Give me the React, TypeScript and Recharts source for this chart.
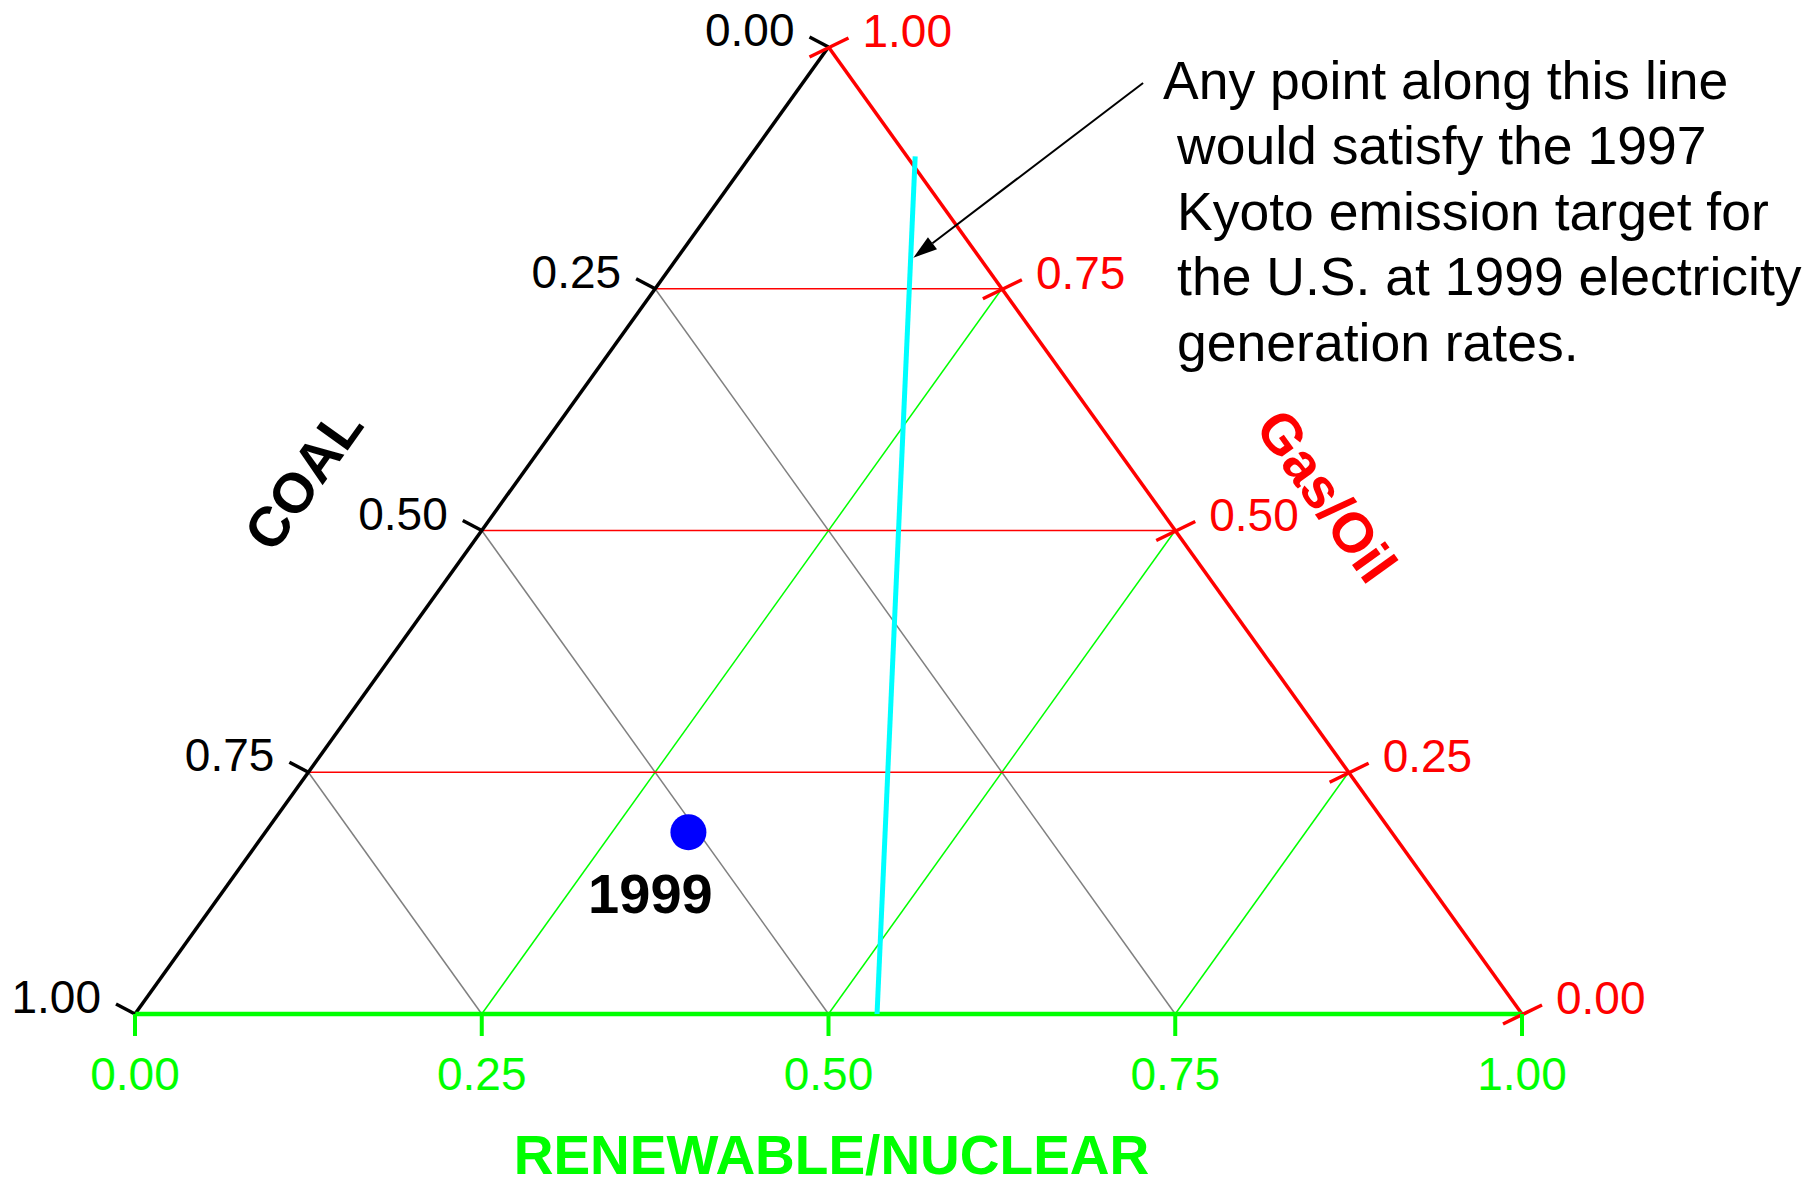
import React from 'react';
import { ComposedChart, XAxis, YAxis, Scatter, ReferenceLine } from 'recharts';

const FONT = '"Liberation Sans", Arial, Helvetica, sans-serif';

// ---- data ----
const tickValues = [0, 0.25, 0.5, 0.75, 1];
const tickLabels = ['0.00', '0.25', '0.50', '0.75', '1.00'];
const gridValues = [0.25, 0.5, 0.75];
const axisTitles = { coal: 'COAL', gas: 'Gas/Oil', renewable: 'RENEWABLE/NUCLEAR' };
const point1999 = { label: '1999', coal: 0.507, renewable: 0.305, gas: 0.188 };
const kyotoRenewable = [0.119, 0.535];
const kyotoGas = [0.887, 0];
const annotationLines = [
  'Any point along this line',
  'would satisfy the 1997',
  'Kyoto emission target for',
  'the U.S. at 1999 electricity',
  'generation rates.',
];
// arrow (annotation) start / tip, in the chart's cartesian units
const arrowStart = { x: 0.7268, y: 0.9628 };
const arrowTip = { x: 0.5612, y: 0.7821 };

// ternary -> cartesian
const toXY = (renewable: number, gas: number) => ({ x: renewable + gas / 2, y: gas });

const COLORS = {
  coal: '#000000',
  gas: '#ff0000',
  renewable: '#00ff00',
  grid: '#808080',
  kyoto: '#00ffff',
  point: '#0000ff',
};

const leftTicks = tickValues.map((c, i) => ({ ...toXY(0, 1 - c), label: tickLabels[i] }));
const rightTicks = tickValues.map((g, i) => ({ ...toXY(1 - g, g), label: tickLabels[i] }));
const bottomTicks = tickValues.map((r, i) => ({ ...toXY(r, 0), label: tickLabels[i] }));
const pointData = [{ ...toXY(point1999.renewable, point1999.gas), label: point1999.label }];
const coalTitleData = [{ ...toXY(0, 0.5), label: axisTitles.coal }];
const gasTitleData = [{ ...toXY(0.5, 0.5), label: axisTitles.gas }];
const renTitleData = [{ ...toXY(0.5, 0), label: axisTitles.renewable }];
const annotationData = [{ ...arrowStart, label: 'note' }];

const LeftTick = (p: any) => {
  const { cx, cy, payload } = p;
  return (
    <g>
      <line x1={cx} y1={cy} x2={cx - 19} y2={cy - 10} stroke={COLORS.coal} strokeWidth={3.5} />
      <text x={cx - 34} y={cy - 1} textAnchor="end" fontSize={46} fontFamily={FONT} fill={COLORS.coal}>
        {payload.label}
      </text>
    </g>
  );
};

const RightTick = (p: any) => {
  const { cx, cy, payload } = p;
  return (
    <g>
      <line x1={cx - 19} y1={cy + 10} x2={cx + 20} y2={cy - 9} stroke={COLORS.gas} strokeWidth={3.5} />
      <text x={cx + 34} y={cy} textAnchor="start" fontSize={46} fontFamily={FONT} fill={COLORS.gas}>
        {payload.label}
      </text>
    </g>
  );
};

const BottomTick = (p: any) => {
  const { cx, cy, payload } = p;
  return (
    <g>
      <line x1={cx} y1={cy} x2={cx} y2={cy + 22} stroke={COLORS.renewable} strokeWidth={4} />
      <text x={cx} y={cy + 76} textAnchor="middle" fontSize={46} fontFamily={FONT} fill={COLORS.renewable}>
        {payload.label}
      </text>
    </g>
  );
};

const PointShape = (p: any) => {
  const { cx, cy, payload } = p;
  return (
    <g>
      <circle cx={cx} cy={cy} r={18} fill={COLORS.point} />
      <text x={cx - 38} y={cy + 81} textAnchor="middle" fontSize={56} fontWeight="bold" fontFamily={FONT} fill="#000">
        {payload.label}
      </text>
    </g>
  );
};

const CoalTitle = (p: any) => {
  const { cx, cy, payload } = p;
  return (
    <text
      transform={`translate(${cx - 179},${cy - 52}) rotate(-54.4)`}
      textAnchor="middle"
      dy="0.36em"
      fontSize={56}
      fontWeight="bold"
      fontFamily={FONT}
      fill={COLORS.coal}
    >
      {payload.label}
    </text>
  );
};

const GasTitle = (p: any) => {
  const { cx, cy, payload } = p;
  return (
    <text
      transform={`translate(${cx + 152},${cy - 35}) rotate(54.4)`}
      textAnchor="middle"
      dy="0.36em"
      fontSize={56}
      fontWeight="bold"
      fontFamily={FONT}
      fill={COLORS.gas}
    >
      {payload.label}
    </text>
  );
};

const RenTitle = (p: any) => {
  const { cx, cy, payload } = p;
  return (
    <text x={cx + 3} y={cy + 160} textAnchor="middle" fontSize={55} fontWeight="bold" fontFamily={FONT} fill={COLORS.renewable}>
      {payload.label}
    </text>
  );
};

const AnnotationText = (p: any) => {
  const { cx, cy } = p;
  return (
    <text fontSize={53.5} fontFamily={FONT} fill="#000">
      {annotationLines.map((line, i) => (
        <tspan key={i} x={cx + (i === 0 ? 20 : 34)} y={cy + 16 + i * 65.5}>
          {line}
        </tspan>
      ))}
    </text>
  );
};

const ArrowShape = (p: any) => {
  const { x1, y1, x2, y2 } = p;
  const dx = x2 - x1;
  const dy = y2 - y1;
  const len = Math.sqrt(dx * dx + dy * dy) || 1;
  const ux = dx / len;
  const uy = dy / len;
  const hl = 24;
  const hw = 7.5;
  const bx = x2 - ux * hl;
  const by = y2 - uy * hl;
  const pts = `${x2},${y2} ${bx - uy * hw},${by + ux * hw} ${bx + uy * hw},${by - ux * hw}`;
  return (
    <g>
      <line x1={x1} y1={y1} x2={bx} y2={by} stroke="#000" strokeWidth={2} />
      <polygon points={pts} fill="#000" />
    </g>
  );
};

const seg = (a: { x: number; y: number }, b: { x: number; y: number }) => [a, b] as any;

export default function App() {
  const grayGrid = gridValues.map((c) => seg(toXY(0, 1 - c), toXY(1 - c, 0)));
  const redGrid = gridValues.map((g) => seg(toXY(0, g), toXY(1 - g, g)));
  const greenGrid = gridValues.map((r) => seg(toXY(r, 0), toXY(r, 1 - r)));
  const kyoto = seg(toXY(kyotoRenewable[0], kyotoGas[0]), toXY(kyotoRenewable[1], kyotoGas[1]));

  return (
    <div style={{ position: 'absolute', left: 0, top: 0, width: 1817, height: 1186, background: '#fff' }}>
      <ComposedChart width={1817} height={1186} margin={{ top: 47, right: 295, bottom: 172, left: 135 }}>
        <XAxis type="number" dataKey="x" domain={[0, 1]} hide />
        <YAxis type="number" dataKey="y" domain={[0, 1]} hide />

        {grayGrid.map((s, i) => (
          <ReferenceLine key={`gy${i}`} segment={s} stroke={COLORS.grid} strokeWidth={1.5} ifOverflow="visible" />
        ))}
        {greenGrid.map((s, i) => (
          <ReferenceLine key={`gn${i}`} segment={s} stroke={COLORS.renewable} strokeWidth={1.5} ifOverflow="visible" />
        ))}
        {redGrid.map((s, i) => (
          <ReferenceLine key={`rd${i}`} segment={s} stroke={COLORS.gas} strokeWidth={1.5} ifOverflow="visible" />
        ))}

        <ReferenceLine segment={seg(toXY(0, 0), toXY(0, 1))} stroke={COLORS.coal} strokeWidth={3.5} ifOverflow="visible" />
        <ReferenceLine segment={seg(toXY(1, 0), toXY(0, 1))} stroke={COLORS.gas} strokeWidth={3.5} ifOverflow="visible" />
        <ReferenceLine segment={seg(toXY(0, 0), toXY(1, 0))} stroke={COLORS.renewable} strokeWidth={4.5} ifOverflow="visible" />

        <ReferenceLine segment={kyoto} stroke={COLORS.kyoto} strokeWidth={5} ifOverflow="visible" />
        <ReferenceLine segment={seg(arrowStart, arrowTip)} shape={ArrowShape} ifOverflow="visible" />

        <Scatter data={leftTicks} shape={LeftTick} isAnimationActive={false} />
        <Scatter data={rightTicks} shape={RightTick} isAnimationActive={false} />
        <Scatter data={bottomTicks} shape={BottomTick} isAnimationActive={false} />
        <Scatter data={coalTitleData} shape={CoalTitle} isAnimationActive={false} />
        <Scatter data={gasTitleData} shape={GasTitle} isAnimationActive={false} />
        <Scatter data={renTitleData} shape={RenTitle} isAnimationActive={false} />
        <Scatter data={annotationData} shape={AnnotationText} isAnimationActive={false} />
        <Scatter data={pointData} shape={PointShape} isAnimationActive={false} />
      </ComposedChart>
    </div>
  );
}
